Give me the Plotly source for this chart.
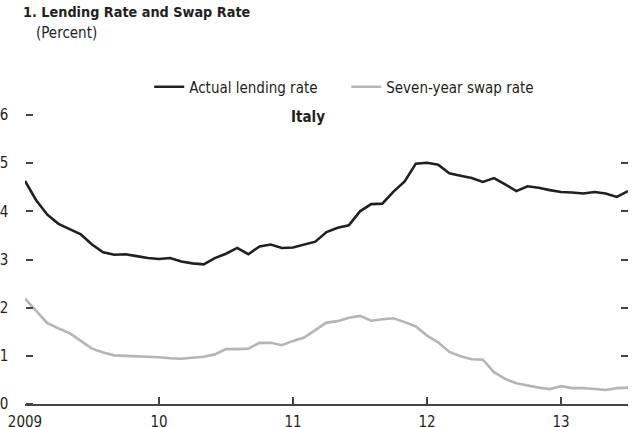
import plotly.graph_objects as go

start_year = 2009
lending_rate = [4.63, 4.23, 3.93, 3.74, 3.63, 3.52, 3.31, 3.15, 3.10, 3.11, 3.07, 3.03,
                3.01, 3.03, 2.96, 2.92, 2.90, 3.03, 3.12, 3.24, 3.11, 3.27, 3.31, 3.24,
                3.25, 3.31, 3.37, 3.57, 3.66, 3.71, 4.00, 4.15, 4.16, 4.41, 4.62, 4.99,
                5.01, 4.97, 4.79, 4.74, 4.69, 4.61, 4.69, 4.56, 4.42, 4.52, 4.49, 4.44,
                4.40, 4.39, 4.37, 4.40, 4.37, 4.30, 4.42]
swap_rate = [2.19, 1.93, 1.68, 1.57, 1.47, 1.31, 1.15, 1.07, 1.01, 1.00, 0.99, 0.99,
             0.97, 0.95, 0.94, 0.96, 0.98, 1.03, 1.14, 1.14, 1.15, 1.27, 1.27, 1.22,
             1.31, 1.38, 1.54, 1.69, 1.72, 1.79, 1.83, 1.73, 1.76, 1.78, 1.70, 1.61,
             1.42, 1.28, 1.08, 0.99, 0.93, 0.92, 0.66, 0.52, 0.43, 0.38, 0.34, 0.31,
             0.37, 0.33, 0.33, 0.31, 0.29, 0.33, 0.34]
months = [start_year + i / 12 for i in range(len(lending_rate))]
x_tickvals = [2009, 2010, 2011, 2012, 2013]
x_ticktext = ["2009", "10", "11", "12", "13"]
y_tickvals = [0, 1, 2, 3, 4, 5, 6]
y_ticktext = [str(v) + "\u00a0\u00a0\u00a0\u2009" for v in y_tickvals]

FONT = "DejaVu Sans Condensed, Roboto, sans-serif"
TXT = "#231f20"
TICK = "#444"

fig = go.Figure()
fig.add_trace(go.Scatter(x=months, y=lending_rate, mode="lines", name="Actual lending rate",
                         line=dict(color="#231f20", width=2.6)))
fig.add_trace(go.Scatter(x=months, y=swap_rate, mode="lines", name="Seven-year swap rate",
                         line=dict(color="#b5b5b5", width=2.6)))
# invisible carriers so the tick-only overlay axes get drawn
fig.add_trace(go.Scatter(x=months, y=swap_rate, mode="lines", yaxis="y2", showlegend=False,
                         hoverinfo="skip", opacity=0, line=dict(width=0.1)))
fig.add_trace(go.Scatter(x=months, y=swap_rate, mode="lines", yaxis="y3", showlegend=False,
                         hoverinfo="skip", opacity=0, line=dict(width=0.1)))

tick_only = dict(range=[0, 6], tickvals=y_tickvals, overlaying="y",
                 ticklen=7, tickwidth=1.5, tickcolor=TICK,
                 showticklabels=False, showline=False, showgrid=False, zeroline=False,
                 automargin=False)

fig.update_layout(
    width=635, height=427,
    margin=dict(l=25, r=7, t=115, b=23, autoexpand=False),
    paper_bgcolor="white", plot_bgcolor="white",
    font=dict(family=FONT, size=15, color=TXT),
    showlegend=True,
    legend=dict(orientation="h", xref="container", yref="container",
                x=0.235, y=1 - 87 / 427, xanchor="left", yanchor="middle",
                font=dict(size=15, family=FONT, color=TXT), bgcolor="rgba(0,0,0,0)",
                itemwidth=30, tracegroupgap=0, entrywidth=152, entrywidthmode="pixels"),
    xaxis=dict(range=[2009, 2009 + 54 / 12], tickvals=x_tickvals, ticktext=x_ticktext,
               ticks="inside", ticklen=7, tickwidth=1.5, tickcolor=TICK,
               showline=True, linecolor=TICK, linewidth=1.5, showgrid=False,
               zeroline=False, automargin=False, ticklabelstandoff=3,
               tickfont=dict(size=15, family=FONT, color=TXT)),
    yaxis=dict(range=[0, 6], tickvals=y_tickvals, ticktext=y_ticktext, ticks="",
               showline=False, showgrid=False, zeroline=False,
               automargin=False, tickfont=dict(size=15, family=FONT, color=TXT)),
    yaxis2=dict(side="right", ticks="inside", **tick_only),
    yaxis3=dict(side="right", anchor="free", position=0, ticks="outside", **tick_only),
    annotations=[
        dict(text="<b>1. Lending Rate and Swap Rate</b>", xref="paper", yref="paper",
             x=(21 - 25) / 603, y=1 + (115 - 12) / 289, xanchor="left", yanchor="middle",
             showarrow=False, font=dict(size=14.3, family=FONT, color=TXT)),
        dict(text="(Percent)", xref="paper", yref="paper",
             x=(34 - 25) / 603, y=1 + (115 - 33) / 289, xanchor="left", yanchor="middle",
             showarrow=False, font=dict(size=15, family=FONT, color=TXT)),
        dict(text="<b>Italy</b>", xref="paper", yref="paper",
             x=(308 - 25) / 603, y=1 - 2 / 289, xanchor="center", yanchor="middle",
             showarrow=False, font=dict(size=15, family=FONT, color=TXT)),
    ],
)

fig.write_html("out.html", config={"displayModeBar": False},
               post_script="document.body.style.margin='0';")
